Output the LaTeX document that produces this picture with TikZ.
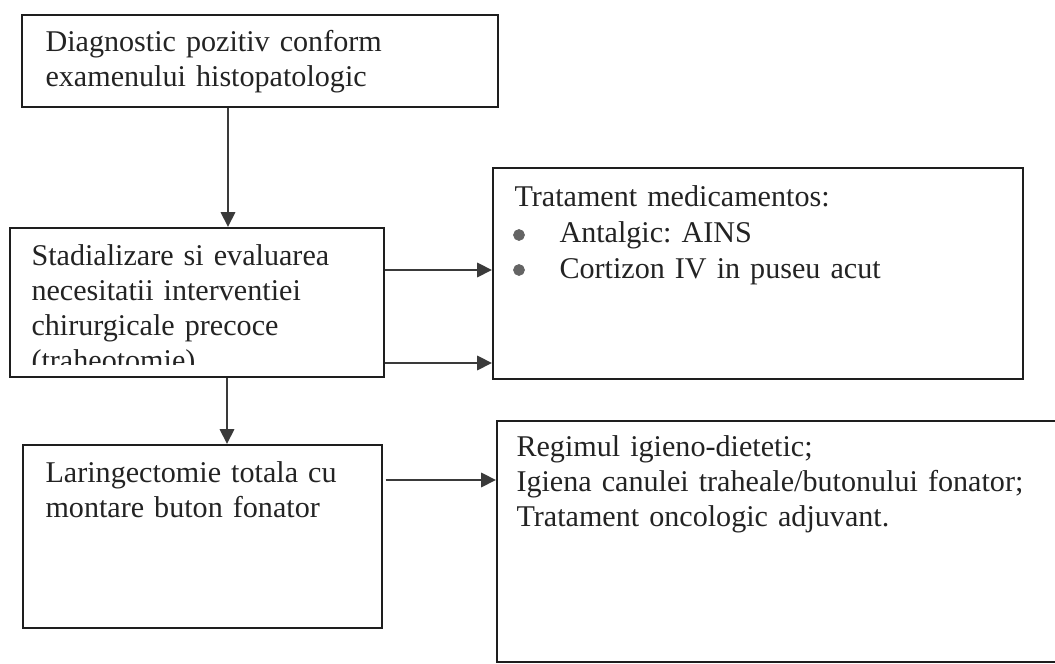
\documentclass[tikz,border=0pt]{standalone}
\usepackage{fontspec}
\setmainfont{Liberation Serif}
\usepackage{tikz}
\usetikzlibrary{arrows.meta,positioning,fit,calc}
\usepackage{xcolor}
\definecolor{boxline}{RGB}{30,30,30}
\definecolor{arrowgray}{RGB}{58,58,58}
\definecolor{textgray}{RGB}{35,35,35}
\definecolor{bulletgray}{RGB}{100,100,100}
\newcommand{\itemgap}{\hspace*{17.7pt}}
\frenchspacing

\begin{document}
\begin{tikzpicture}[
            x=0.3934pt, y=-0.3934pt,
            box/.style={rectangle, draw=boxline, line width=0.8pt, inner sep=0pt},
            txt/.style={anchor=base west, inner sep=0pt, align=left, text=textgray,
                        font=\fontsize{11.85}{13.7}\selectfont},
            dot/.style={circle, fill=bulletgray, draw=bulletgray, line width=0.4pt,
                        inner sep=0pt, minimum size=4.2pt},
            arrow/.style={-{Triangle[length=5.8pt, width=5.6pt]}, line width=0.9pt, arrowgray}
        ]
            \useasboundingbox (0,0) rectangle (1055,664);
            \clip (0,0) rectangle (1055,664);

            \node[box, fit={(22,15) (498,107)}] (diag) {};
            \node[box, fit={(10,228) (384,377)}] (stadial) {};
            \node[box, fit={(493,168) (1023,379)}] (medic) {};
            \node[box, fit={(23,445) (382,628)}] (laring) {};
            \node[box, fit={(497,421) (1075,662)}] (regim) {};

            \node[txt, text width=165pt] (diagtext) at (45,52)
                {Diagnostic pozitiv conform\\examenului histopatologic};
            \begin{scope}
                \clip (stadial.north west) rectangle (stadial.east |- 0,365);
                \node[txt, text width=130pt] (stadtext) at (31,266)
                    {Stadializare si evaluarea\\necesitatii interventiei\\chirurgicale precoce\\(traheotomie)};
            \end{scope}
            \node[txt, text width=190pt, font=\fontsize{11.85}{14}\selectfont] (medtext) at (514,207)
                {Tratament medicamentos:\\\itemgap Antalgic: AINS\\\itemgap Cortizon IV in puseu acut};
            \node[dot] (dotone) at (519,235) {};
            \node[dot] (dottwo) at (519,270) {};
            \node[txt, text width=125pt] (laringtext) at (45,483)
                {Laringectomie totala cu\\montare buton fonator};
            \node[txt, text width=205pt] (regimtext) at (516,457)
                {Regimul igieno-dietetic;\\Igiena canulei traheale/butonului fonator;\\Tratament oncologic adjuvant.};

            \coordinate (downone) at (228,0);
            \coordinate (downtwo) at (227,0);
            \coordinate (rowone) at (0,270);
            \coordinate (rowtwo) at (0,363);
            \coordinate (rowthree) at (0,480);

            \draw[arrow] (diag.south -| downone) -- (stadial.north -| downone);
            \draw[arrow] (stadial.east |- rowone) -- (medic.west |- rowone);
            \draw[arrow] (stadial.east |- rowtwo) -- (medic.west |- rowtwo);
            \draw[arrow] (stadial.south -| downtwo) -- (laring.north -| downtwo);
            \draw[arrow] ([xshift=1pt]laring.east |- rowthree) -- (regim.west |- rowthree);
        \end{tikzpicture}
\end{document}
